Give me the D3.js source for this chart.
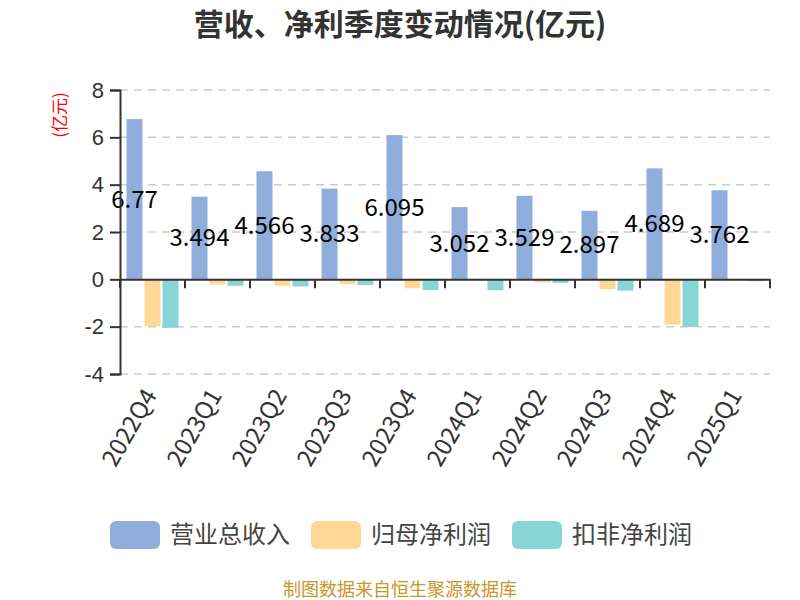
<!DOCTYPE html>
<html>
<head>
<meta charset="utf-8">
<script src="https://cdn.jsdelivr.net/npm/d3@7"></script>
<style>
    body { margin: 0; background: #fff; }
    svg { font-family: "Noto Sans CJK SC", "Noto Sans", sans-serif; }
</style>
</head>
<body>
<svg id="chart"></svg>
<script>
const quarters = ['2022Q4', '2023Q1', '2023Q2', '2023Q3', '2023Q4', '2024Q1', '2024Q2', '2024Q3', '2024Q4', '2025Q1'];
const seriesNames = ['营业总收入', '归母净利润', '扣非净利润'];
const revenue = [6.77, 3.494, 4.566, 3.833, 6.095, 3.052, 3.529, 2.897, 4.689, 3.762];
const netProfit = [-1.98, -0.22, -0.27, -0.2, -0.38, 0.03, -0.13, -0.42, -1.91, -0.01];
const netProfitExcl = [-2.05, -0.27, -0.3, -0.24, -0.45, -0.46, -0.15, -0.48, -2.01, -0.08];
const yTicks = [-4, -2, 0, 2, 4, 6, 8];
const colors = ['#8faedc', '#ffd898', '#88d5d8'];

const W = 800, H = 600;
const margin = { top: 90, right: 30, bottom: 226, left: 120 };
const width = W - margin.left - margin.right;
const height = H - margin.top - margin.bottom;

const svg = d3.select('#chart').attr('width', W).attr('height', H);

svg.append('text')
    .attr('x', W / 2).attr('y', 35)
    .attr('text-anchor', 'middle')
    .style('font-size', '30px').style('font-weight', 'bold')
    .attr('fill', '#333')
    .text('营收、净利季度变动情况(亿元)');

const chart = svg.append('g').attr('transform', `translate(${margin.left},${margin.top})`);

const x0 = d3.scaleBand().domain(quarters).range([0, width]).paddingInner(0.2).paddingOuter(0.1);
const x1 = d3.scaleBand().domain(seriesNames).range([0, x0.bandwidth()]).paddingInner(0.111);
const xAxisScale = d3.scaleBand().domain(quarters).range([0, width]);
const y = d3.scaleLinear().domain([-4, 8]).range([height, 0]);

// grid
chart.selectAll('.grid').data(yTicks.filter(d => d !== 0))
    .enter().append('line')
    .attr('x1', 0).attr('x2', width)
    .attr('y1', d => y(d)).attr('y2', d => y(d))
    .attr('stroke', '#ccc').attr('stroke-width', 1.5)
    .attr('stroke-dasharray', '8,6');

const table = quarters.map((q, i) => ({
    key: q,
    values: [revenue[i], netProfit[i], netProfitExcl[i]].map((v, j) => ({ name: seriesNames[j], value: v, idx: j }))
}));

const groups = chart.selectAll('.grp').data(table).enter().append('g')
    .attr('transform', d => `translate(${x0(d.key)},0)`);

groups.selectAll('rect').data(d => d.values).enter().append('rect')
    .attr('x', d => x1(d.name))
    .attr('width', x1.bandwidth())
    .attr('y', d => y(Math.max(0, d.value)))
    .attr('height', d => Math.abs(y(d.value) - y(0)))
    .attr('fill', d => colors[d.idx]);

// y axis
const yAxis = chart.append('g')
    .call(d3.axisLeft(y).tickValues(yTicks).tickSize(10).tickPadding(6).tickFormat(d => String(d)));
yAxis.select('.domain').attr('stroke', '#333').attr('stroke-width', 2);
yAxis.selectAll('.tick line').attr('stroke', '#333').attr('stroke-width', 2);
yAxis.selectAll('text').attr('fill', '#333').style('font-size', '22px').attr('font-family', 'inherit');

// x axis at zero
const xAxis = chart.append('g')
    .attr('transform', `translate(0,${y(0)})`)
    .call(d3.axisBottom(xAxisScale).tickSize(0).tickFormat(''));
xAxis.select('.domain').attr('stroke', '#333').attr('stroke-width', 2);
chart.selectAll('.xtick').data(d3.range(quarters.length + 1)).enter().append('line')
    .attr('x1', d => d * xAxisScale.step()).attr('x2', d => d * xAxisScale.step())
    .attr('y1', y(0)).attr('y2', y(0) + 9)
    .attr('stroke', '#333').attr('stroke-width', 2);

// x labels at bottom
chart.selectAll('.xlab').data(quarters).enter().append('text')
    .attr('transform', d => `translate(${xAxisScale(d) + xAxisScale.bandwidth() / 2 - 2},${height + 17}) rotate(-60)`)
    .attr('text-anchor', 'end')
    .attr('dy', '0.35em')
    .attr('fill', '#333')
    .style('font-size', '24px')
    .text(d => d);

// value labels
groups.append('text')
    .attr('x', x1(seriesNames[0]) + x1.bandwidth() / 2)
    .attr('y', d => (y(d.values[0].value) + y(0)) / 2)
    .attr('dy', '0.35em')
    .attr('text-anchor', 'middle')
    .style('font-size', '24px')
    .attr('fill', '#000')
    .text(d => d.values[0].value);

// y name
svg.append('text')
    .attr('transform', 'translate(60,115) rotate(-90)')
    .attr('text-anchor', 'middle')
    .attr('dy', '0.35em')
    .attr('fill', 'red')
    .style('font-size', '17px')
    .text('(亿元)');

// legend
const legend = svg.append('g').attr('transform', 'translate(110,521)');
const item = legend.selectAll('.item').data(seriesNames).enter().append('g')
    .attr('transform', (d, i) => `translate(${i * 201},0)`);
item.append('rect').attr('width', 50).attr('height', 28).attr('rx', 6)
    .attr('fill', (d, i) => colors[i]);
item.append('text').attr('x', 60).attr('y', 14).attr('dy', '0.35em')
    .style('font-size', '24px').attr('fill', '#444')
    .text(d => d);

svg.append('text')
    .attr('x', W / 2).attr('y', 596)
    .attr('text-anchor', 'middle')
    .style('font-size', '18px')
    .attr('fill', '#c8962a')
    .text('制图数据来自恒生聚源数据库');
</script>
</body>
</html>
